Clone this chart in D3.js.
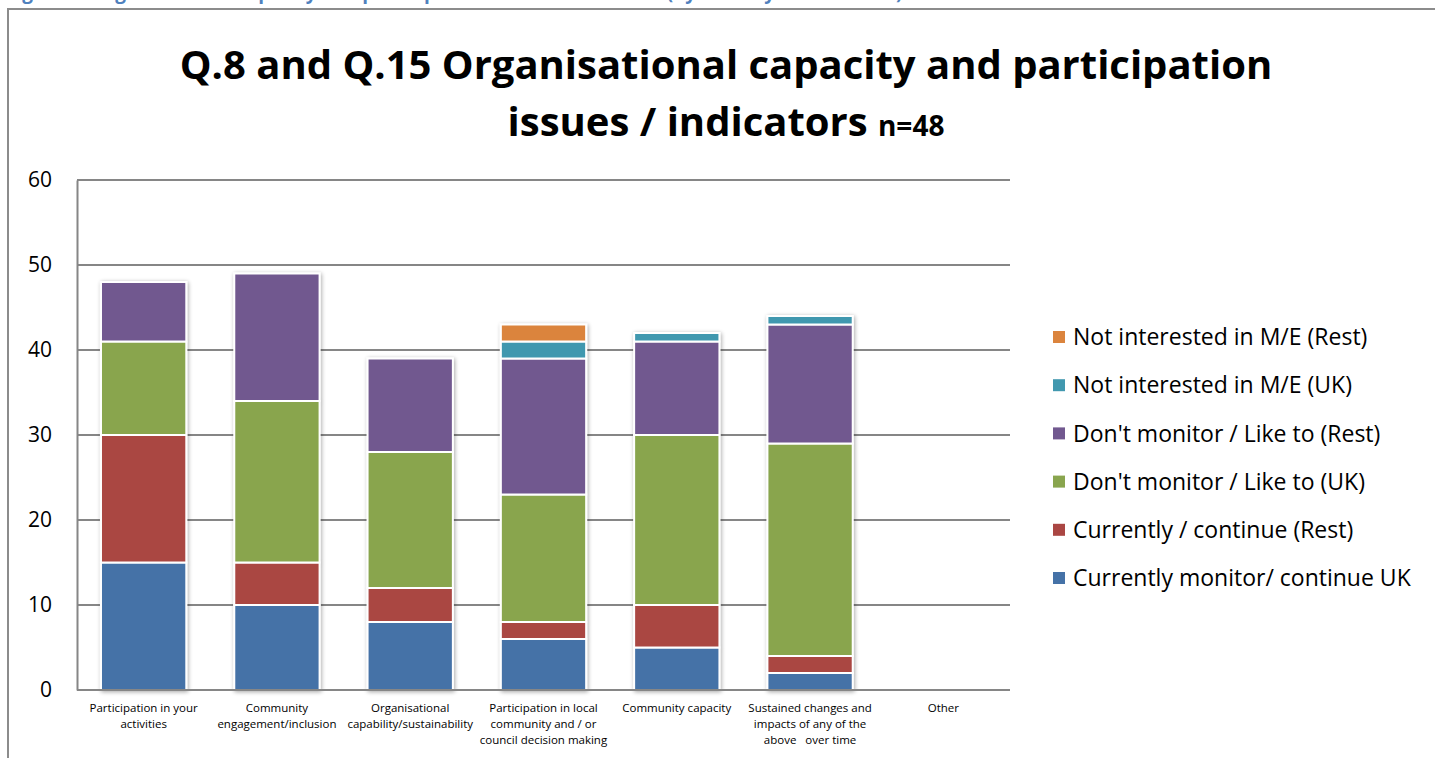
<!DOCTYPE html>
<html>
<head>
<meta charset="utf-8">
<script src="https://cdn.jsdelivr.net/npm/d3@7"></script>
<style>
  html, body { margin: 0; padding: 0; background: #fff; }
  svg text { font-family: "Open Sans", "Noto Sans", sans-serif; fill: #000; }
</style>
</head>
<body>
<svg id="chart" width="1435" height="758"></svg>
<script>
// categories (x axis), wrapped labels
const categories = [
  ["Participation in your", "activities"],
  ["Community", "engagement/inclusion"],
  ["Organisational", "capability/sustainability"],
  ["Participation in local", "community and / or", "council decision making"],
  ["Community capacity"],
  ["Sustained changes and", "impacts of any of the", "above   over time"],
  ["Other"]
];

// series, bottom to top of the stack
const seriesNames = [
  "Currently monitor/ continue UK",
  "Currently / continue (Rest)",
  "Don't monitor / Like to (UK)",
  "Don't monitor / Like to (Rest)",
  "Not interested in M/E (UK)",
  "Not interested in M/E (Rest)"
];
const currentUK    = [15, 10, 8, 6, 5, 2, 0];
const currentRest  = [15, 5, 4, 2, 5, 2, 0];
const likeToUK     = [11, 19, 16, 15, 20, 25, 0];
const likeToRest   = [7, 15, 11, 16, 11, 14, 0];
const notIntUK     = [0, 0, 0, 2, 1, 1, 0];
const notIntRest   = [0, 0, 0, 2, 0, 0, 0];
const seriesColors = ["#4572a7", "#aa4643", "#89a54e", "#71588f", "#4198af", "#db843d"];

const yTicks = [0, 10, 20, 30, 40, 50, 60];

const svg = d3.select("#chart");

// caption above the chart box (cut off at the top of the page, as in the source)
svg.append("text")
  .attr("x", 6).attr("y", -1)
  .style("fill", "#4f81bd")
  .attr("font-size", 19).attr("font-weight", "bold")
  .text("Figure 8: Organisational capacity and participation issues / indicators (by country of residence)");

// outer chart border
svg.append("rect")
  .attr("x", 8).attr("y", 9)
  .attr("width", 1440).attr("height", 760)
  .attr("fill", "none").attr("stroke", "#8c8c8c").attr("stroke-width", 2);

// title
const title = svg.append("g").attr("font-weight", "bold");
title.append("text")
  .attr("x", 726).attr("y", 79)
  .attr("text-anchor", "middle")
  .attr("font-size", 40)
  .text("Q.8 and Q.15 Organisational capacity and participation");
const t2 = title.append("text")
  .attr("x", 726).attr("y", 136)
  .attr("text-anchor", "middle")
  .attr("font-size", 40);
t2.append("tspan").text("issues / indicators ");
t2.append("tspan").attr("font-size", 28).text("n=48");

const margin = { left: 77, right: 425, top: 180, bottom: 68 };
const width = 1435 - margin.left - margin.right;
const height = 758 - margin.top - margin.bottom;

const g = svg.append("g").attr("transform", `translate(${margin.left},${margin.top})`);

const x = d3.scaleBand().domain(d3.range(categories.length)).range([0, width]).paddingInner(0.36).paddingOuter(0.18);
const y = d3.scaleLinear().domain([0, 60]).range([height, 0]);

// drop shadow for bars
const defs = svg.append("defs");
const shadow = defs.append("filter").attr("id", "shadow")
  .attr("x", "-20%").attr("y", "-20%").attr("width", "140%").attr("height", "140%");
shadow.append("feGaussianBlur").attr("in", "SourceAlpha").attr("stdDeviation", 2.2).attr("result", "blur");
shadow.append("feOffset").attr("dx", 1).attr("dy", 1).attr("result", "off");
shadow.append("feComponentTransfer").append("feFuncA").attr("type", "linear").attr("slope", 0.35);
const merge = shadow.append("feMerge");
merge.append("feMergeNode");
merge.append("feMergeNode").attr("in", "SourceGraphic");

// gridlines
g.append("g")
  .selectAll("line")
  .data(yTicks)
  .join("line")
  .attr("x1", 0).attr("x2", width)
  .attr("y1", d => y(d)).attr("y2", d => y(d))
  .attr("stroke", "#868686").attr("stroke-width", 2);

// y axis
const yAxis = g.append("g")
  .call(d3.axisLeft(y).tickValues(yTicks).tickSize(0).tickPadding(25));
yAxis.select(".domain").attr("stroke", "#868686").attr("stroke-width", 2);
yAxis.selectAll("text").attr("font-size", 21).attr("fill", "#000")
  .style("font-family", "'Open Sans', sans-serif");

// stack
const table = categories.map((c, i) => ({
  i,
  s0: currentUK[i], s1: currentRest[i], s2: likeToUK[i],
  s3: likeToRest[i], s4: notIntUK[i], s5: notIntRest[i]
}));
const stack = d3.stack().keys(["s0", "s1", "s2", "s3", "s4", "s5"])(table);

const barLayer = g.append("g").attr("filter", "url(#shadow)");
stack.forEach((layer, k) => {
  barLayer.append("g")
    .attr("fill", seriesColors[k])
    .selectAll("rect")
    .data(layer.filter(d => d[1] > d[0]))
    .join("rect")
    .attr("x", d => x(d.data.i))
    .attr("width", x.bandwidth())
    .attr("y", d => y(d[1]))
    .attr("height", d => y(d[0]) - y(d[1]))
    .attr("stroke", "#fff").attr("stroke-width", 2);
});

// bottom axis line
g.append("line")
  .attr("x1", 0).attr("x2", width)
  .attr("y1", height).attr("y2", height)
  .attr("stroke", "#868686").attr("stroke-width", 2);

// x labels
const xl = g.append("g").attr("font-size", 11.5);
categories.forEach((lines, i) => {
  const t = xl.append("text")
    .attr("x", x(i) + x.bandwidth() / 2)
    .attr("y", height + 22)
    .attr("text-anchor", "middle");
  lines.forEach((l, j) => {
    t.append("tspan")
      .attr("x", x(i) + x.bandwidth() / 2)
      .attr("dy", j === 0 ? 0 : 16)
      .attr("xml:space", "preserve")
      .text(l);
  });
});

// legend, top entry = last series
const legend = svg.append("g").attr("transform", "translate(1053,337)");
const order = d3.range(seriesNames.length).reverse();
order.forEach((k, r) => {
  const row = legend.append("g").attr("transform", `translate(0,${r * 48.2})`);
  row.append("rect")
    .attr("x", 0).attr("y", -6).attr("width", 12).attr("height", 12)
    .attr("fill", seriesColors[k]);
  row.append("text")
    .attr("x", 20).attr("y", 0).attr("dy", "0.36em")
    .attr("font-size", 23)
    .text(seriesNames[k]);
});
</script>
</body>
</html>
